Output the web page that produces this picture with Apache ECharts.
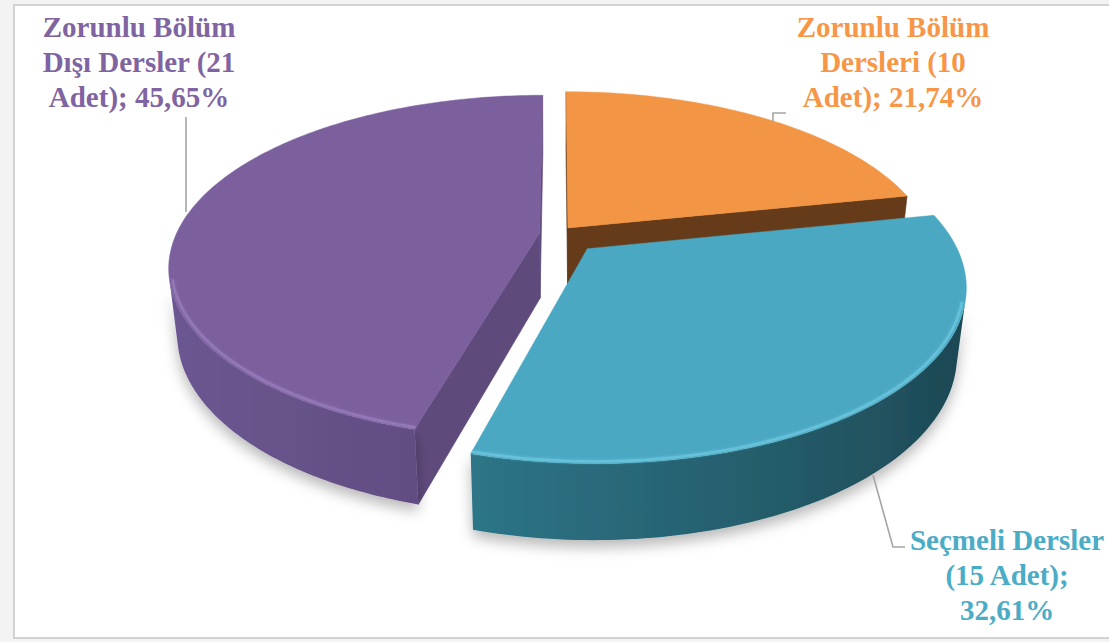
<!DOCTYPE html>
<html><head><meta charset="utf-8">
<script src="https://cdn.jsdelivr.net/npm/echarts@6/dist/echarts.min.js"></script>
<style>html,body{margin:0;padding:0;background:#fff}#main{width:1109px;height:642px}</style>
</head><body><div id="main"></div>
<script>
// ---------- data ----------
const categories = ['Zorunlu Bölüm Dersleri', 'Seçmeli Dersler', 'Zorunlu Bölüm Dışı Dersler'];
const courseCounts = [10, 15, 21];
const unitLabel = 'Adet';

// ---------- styles / layout ----------
const topColors   = ['#F29545', '#4AA8C3', '#7C5F9D'];
const cutColors   = ['#653B1A', '#2A6577', '#5F4A7C'];
const wallLeft    = ['#a86a35', '#3790a6', '#6D5893'];
const wallRight   = ['#7a4a22', '#1C4550', '#4E3C68'];
const rimColors   = ['#f8b27a', '#6fc9e0', '#9a80c0'];
const labelColors = ['#F79646', '#4BACC6', '#8064A2'];
const explode     = [0.048, 0.12, 0.048];
const labelPos    = [[893, 62], [1007, 575], [139, 62]];
const labelFont   = 'bold 29px "Liberation Serif", "Times New Roman", serif';
const labelWrap   = 208;
const leaderLines = [
  [[786,113],[773,113],[773,121]],
  [[873,475],[893,547],[905,547]],
  [[186,117],[186,212]]
];
const cam = { x0: 557, y0: 234, F: 1598, Fx: 1622, D: 4.463, S: 0.462, C: 0.887, h: 0.21 };

// ---------- helpers ----------
const total = courseCounts.reduce((a, b) => a + b, 0);
const starts = [];
{ let acc = 0; courseCounts.forEach(v => { starts.push(acc); acc += v; }); }

function proj(X, Yh, Z) {
  const yc = Z * cam.S + Yh * cam.C;
  const zc = cam.D + Z * cam.C - Yh * cam.S;
  return [cam.x0 + cam.Fx * X / zc, cam.y0 - cam.F * yc / zc];
}
function hex2rgb(h) { h = h.replace('#',''); return [0,2,4].map(i => parseInt(h.substr(i,2),16)); }
function mix(a, b, t) {
  const A = hex2rgb(a), B = hex2rgb(b);
  return 'rgb(' + A.map((v, i) => Math.round(v + (B[i] - v) * t)).join(',') + ')';
}
const measureCtx = document.createElement('canvas').getContext('2d');
function wrapText(text, font, maxW) {
  measureCtx.font = font;
  const words = text.split(' ');
  const lines = []; let cur = '';
  words.forEach(w => {
    const test = cur ? cur + ' ' + w : w;
    if (cur && measureCtx.measureText(test).width > maxW) { lines.push(cur); cur = w; }
    else cur = test;
  });
  if (cur) lines.push(cur);
  return lines.join('\n');
}

function renderItem(params, api) {
  const i = params.dataIndex;
  const v = api.value(0);
  const a0 = starts[i] / total * Math.PI * 2;
  const a1 = (starts[i] + v) / total * Math.PI * 2;
  const m = (a0 + a1) / 2;
  const e = explode[i];
  const ox = e * Math.sin(m), oz = e * Math.cos(m);
  const h = cam.h;
  const rim = (t, Yh, r) => proj(ox + (r || 1) * Math.sin(t), Yh, oz + (r || 1) * Math.cos(t));
  const apex = Yh => proj(ox, Yh, oz);
  const base = Math.round((1 - Math.cos(m)) * 10) * 10; // back slices first
  const children = [];
  const DC = cam.D * cam.C;

  // radial faces
  const faceVis = (n) => n[0] * (-ox) + n[1] * (-DC - oz) > 0;
  [[a0, [-Math.cos(a0), Math.sin(a0)]], [a1, [Math.cos(a1), -Math.sin(a1)]]].forEach(([a, n]) => {
    if (!faceVis(n)) return;
    children.push({
      type: 'polygon', z2: base + 1,
      shape: { points: [apex(0), rim(a, 0), rim(a, -h), apex(-h)] },
      style: { fill: cutColors[i], stroke: cutColors[i], lineWidth: 0.6 }
    });
  });

  // outer wall
  const N = Math.max(10, Math.ceil((a1 - a0) / (Math.PI / 180)));
  const wallVis = t => -ox * Math.sin(t) - oz * Math.cos(t) - 1 - DC * Math.cos(t) > 0;
  let ranges = [], cur = null;
  for (let k = 0; k <= N; k++) {
    const t = a0 + (a1 - a0) * k / N;
    if (wallVis(t)) { if (!cur) { cur = [t, t]; ranges.push(cur); } else cur[1] = t; }
    else cur = null;
  }
  ranges.forEach(([t0, t1]) => {
    const pts = [], K = 80;
    for (let k = 0; k <= K; k++) pts.push(rim(t0 + (t1 - t0) * k / K, 0));
    for (let k = K; k >= 0; k--) pts.push(rim(t0 + (t1 - t0) * k / K, -h));
    const xs = pts.map(p => p[0]);
    const xmin = Math.min(...xs), xmax = Math.max(...xs);
    const stops = [];
    for (let k = 0; k <= 10; k++) {
      const t = t0 + (t1 - t0) * k / 10;
      const sx = rim(t, 0)[0];
      stops.push({ offset: Math.min(1, Math.max(0, (sx - xmin) / (xmax - xmin || 1))),
                   color: mix(wallLeft[i], wallRight[i], (Math.sin(t) + 1) / 2) });
    }
    stops.sort((p, q) => p.offset - q.offset);
    children.push({
      type: 'polygon', z2: base + 1,
      shape: { points: pts },
      style: {
        fill: new echarts.graphic.LinearGradient(xmin, 0, xmax, 0, stops, true),
        shadowBlur: 14, shadowColor: 'rgba(0,0,0,0.28)', shadowOffsetY: 7
      }
    });
    // rim highlight
    const rp = [];
    for (let k = 0; k <= K; k++) rp.push(rim(t0 + (t1 - t0) * k / K, 0, 0.992));
    children.push({
      type: 'polyline', z2: base + 6, shape: { points: rp },
      style: { stroke: rimColors[i], lineWidth: 2.5, fill: null, opacity: 0.65, shadowBlur: 3, shadowColor: rimColors[i] }
    });
  });

  // top face
  const top = [apex(0)];
  for (let k = 0; k <= N; k++) top.push(rim(a0 + (a1 - a0) * k / N, 0));
  children.push({
    type: 'polygon', z2: base + 5, shape: { points: top },
    style: { fill: topColors[i], stroke: topColors[i], lineWidth: 0.5 }
  });

  // leader line + label
  children.push({
    type: 'polyline', z2: 200, shape: { points: leaderLines[i] },
    style: { stroke: '#a5a5a5', lineWidth: 1.6, fill: null }
  });
  const pct = (v / total * 100).toFixed(2).replace('.', ',');
  const text = wrapText(`${categories[i]} (${v} ${unitLabel}); ${pct}%`, labelFont, labelWrap);
  children.push({
    type: 'text', z2: 210, x: labelPos[i][0], y: labelPos[i][1],
    style: { text, fill: labelColors[i], font: labelFont, align: 'center', verticalAlign: 'middle', lineHeight: 35 }
  });
  return { type: 'group', children };
}

const chart = echarts.init(document.getElementById('main'), null, { renderer: 'svg' });
chart.setOption({
  animation: false,
  backgroundColor: '#f3f3f3',
  graphic: [
    { type: 'rect', z: 0, shape: { x: 14, y: 5, width: 1110, height: 633 },
      style: { fill: '#ffffff', stroke: '#d2d2d2', lineWidth: 2 } }
  ],
  series: [{
    type: 'custom',
    coordinateSystem: 'none',
    renderItem,
    data: courseCounts.map((v, i) => ({ name: categories[i], value: [v] }))
  }]
});
</script>
</body></html>
